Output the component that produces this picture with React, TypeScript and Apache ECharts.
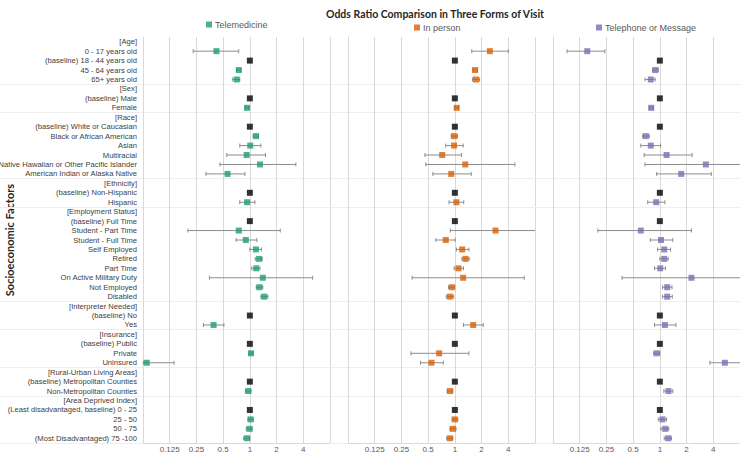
import React, { useEffect, useRef } from "react";
import * as echarts from "echarts";

const categories = [
  "[Age]",
  "0 - 17 years old",
  "(baseline) 18 - 44 years old",
  "45 - 64 years old",
  "65+ years old",
  "[Sex]",
  "(baseline) Male",
  "Female",
  "[Race]",
  "(baseline) White or Caucasian",
  "Black or African American",
  "Asian",
  "Multiracial",
  "Native Hawaiian or Other Pacific Islander",
  "American Indian or Alaska Native",
  "[Ethnicity]",
  "(baseline) Non-Hispanic",
  "Hispanic",
  "[Employment Status]",
  "(baseline) Full Time",
  "Student - Part Time",
  "Student - Full Time",
  "Self Employed",
  "Retired",
  "Part Time",
  "On Active Military Duty",
  "Not Employed",
  "Disabled",
  "[Interpreter Needed]",
  "(baseline) No",
  "Yes",
  "[Insurance]",
  "(baseline) Public",
  "Private",
  "Uninsured",
  "[Rural-Urban Living Areas]",
  "(baseline) Metropolitan Counties",
  "Non-Metropolitan Counties",
  "[Area Deprived Index]",
  "(Least disadvantaged, baseline) 0 - 25",
  "25 - 50",
  "50 - 75",
  "(Most Disadvantaged) 75 -100",
];

const N = null;
// Telemedicine
const teleOR = [N, 0.42, N, 0.75, 0.71, N, N, 0.93, N, N, 1.17, 1.01, 0.92, 1.3, 0.56, N, N, 0.93, N, N, 0.75, 0.9, 1.17, 1.27, 1.18, 1.4, 1.28, 1.45, N, N, 0.39, N, N, 1.03, 0.069, N, N, 0.96, N, N, 1.02, 0.99, 0.93];
const teleLo = [N, 0.23, N, 0.71, 0.64, N, N, 0.89, N, N, 1.09, 0.77, 0.55, 0.46, 0.32, N, N, 0.77, N, N, 0.2, 0.7, 1.0, 1.15, 1.05, 0.35, 1.18, 1.33, N, N, 0.3, N, N, 0.98, 0.063, N, N, 0.89, N, N, 0.95, 0.91, 0.85];
const teleHi = [N, 0.75, N, 0.79, 0.77, N, N, 0.97, N, N, 1.25, 1.33, 1.5, 3.3, 0.88, N, N, 1.14, N, N, 2.2, 1.2, 1.35, 1.38, 1.3, 5.1, 1.4, 1.6, N, N, 0.51, N, N, 1.08, 0.14, N, N, 1.03, N, N, 1.09, 1.06, 1.0];
// In person
const inOR = [N, 2.48, N, 1.69, 1.73, N, N, 1.05, N, N, 0.98, 0.98, 0.72, 1.31, 0.91, N, N, 1.04, N, N, 2.87, 0.79, 1.21, 1.32, 1.1, 1.24, 0.925, 0.88, N, N, 1.61, N, N, 0.665, 0.545, N, N, 0.88, N, N, 1.0, 0.95, 0.88];
const inLo = [N, 1.55, N, 1.6, 1.58, N, N, 1.0, N, N, 0.91, 0.79, 0.46, 0.47, 0.565, N, N, 0.86, N, N, 0.89, 0.61, 1.04, 1.2, 0.98, 0.33, 0.85, 0.8, N, N, 1.25, N, N, 0.32, 0.41, N, N, 0.82, N, N, 0.93, 0.88, 0.81];
const inHi = [N, 4.0, N, 1.8, 1.9, N, N, 1.1, N, N, 1.07, 1.24, 1.19, 4.75, 1.53, N, N, 1.26, N, N, 9.5, 1.01, 1.44, 1.45, 1.25, 6.05, 1.0, 0.97, N, N, 2.09, N, N, 1.44, 0.74, N, N, 0.95, N, N, 1.08, 1.03, 0.95];
// Telephone or Message
const phoneOR = [N, 0.152, N, 0.89, 0.79, N, N, 0.8, N, N, 0.695, 0.79, 1.19, 3.3, 1.74, N, N, 0.91, N, N, 0.61, 1.03, 1.12, 1.12, 1.01, 2.27, 1.21, 1.21, N, N, 1.14, N, N, 0.925, 5.4, N, N, 1.25, N, N, 1.07, 1.15, 1.24];
const phoneLo = [N, 0.09, N, 0.83, 0.68, N, N, 0.76, N, N, 0.64, 0.61, 0.665, 0.68, 0.92, N, N, 0.73, N, N, 0.2, 0.78, 0.94, 1.0, 0.87, 0.375, 1.07, 1.07, N, N, 0.87, N, N, 0.85, 3.66, N, N, 1.11, N, N, 0.96, 1.03, 1.12];
const phoneHi = [N, 0.24, N, 0.96, 0.885, N, N, 0.84, N, N, 0.76, 1.02, 2.31, 10, 3.8, N, N, 1.14, N, N, 2.27, 1.4, 1.32, 1.24, 1.16, 10, 1.37, 1.38, N, N, 1.52, N, N, 1.0, 10, N, N, 1.4, N, N, 1.19, 1.26, 1.35];

const panelNames = ["Telemedicine", "In person", "Telephone or Message"];
const panelColors = ["#1b9e77", "#d95f02", "#7570b3"];
const xMin = 0.0625;
const xMax = 8;

const panels = [
  { or: teleOR, lo: teleLo, hi: teleHi },
  { or: inOR, lo: inLo, hi: inHi },
  { or: phoneOR, lo: phoneLo, hi: phoneHi },
];

const isHeader = (i: number) => i > 0 && i < categories.length && categories[i].startsWith("[");
const baselineIdx = categories.map((c, i) => (c.includes("baseline") ? i : -1)).filter((i) => i >= 0);

const gridLefts = [143, 348, 553];
const gridWidth = 187;
const gridTop = 37;
const gridBottom = 11;

export default function App() {
  const ref = useRef<HTMLDivElement>(null);
  useEffect(() => {
    document.body.style.margin = "0";
    if (!ref.current) return;
    const chart = echarts.init(ref.current, undefined, { renderer: "svg" });
    const grids = gridLefts.map((l) => ({
      left: l,
      width: gridWidth,
      top: gridTop,
      bottom: gridBottom,
      containLabel: false,
      outerBoundsMode: "none",
    }));
    const xAxes = gridLefts.map((_, p) => ({
      type: "log",
      logBase: 2,
      gridIndex: p,
      min: xMin,
      max: xMax,
      axisLine: { show: true, lineStyle: { color: "#d9d9d9" } },
      axisTick: { show: false },
      splitLine: { show: true, lineStyle: { color: "#d9d9d9", width: 1 } },
      axisLabel: {
        showMinLabel: false,
        showMaxLabel: false,
        fontSize: 8,
        color: "#595959",
        margin: 2,
        fontFamily: "Liberation Sans, Arial, sans-serif",
      },
    }));
    const yAxes = gridLefts.map((_, p) => ({
      type: "category",
      gridIndex: p,
      data: categories,
      inverse: true,
      boundaryGap: true,
      axisLine: { show: true, lineStyle: { color: "#d9d9d9" } },
      axisTick: {
        show: true,
        interval: (i: number) => isHeader(i),
        length: p === 0 ? 143 : 18,
        lineStyle: { color: "#eeeeee" },
      },
      splitLine: { show: true, interval: (i: number) => isHeader(i), lineStyle: { color: "#eeeeee" } },
      axisLabel: {
        show: p === 0,
        interval: 0,
        fontSize: 7.6,
        color: "#404040",
        margin: 6,
        fontFamily: "Liberation Sans, Arial, sans-serif",
      },
      name: p === 0 ? "Socioeconomic Factors" : "",
      nameLocation: "middle",
      nameRotate: 90,
      nameGap: 128,
      nameMoveOverlap: false,
      nameTextStyle: {
        fontWeight: "bold",
        fontSize: 11,
        color: "#262626",
        fontFamily: "Lato, sans-serif",
      },
    }));

    const series: any[] = [];
    panels.forEach((pd, p) => {
      const errData: any[] = [];
      const ptData: any[] = [];
      pd.or.forEach((v, i) => {
        if (v == null) return;
        errData.push([pd.lo[i], pd.hi[i], i]);
        ptData.push([v, i]);
      });
      series.push({
        type: "custom",
        name: "err" + p,
        xAxisIndex: p,
        yAxisIndex: p,
        data: errData,
        z: 2,
        renderItem: (params: any, api: any) => {
          const cs = params.coordSys;
          const row = api.value(2);
          const a = api.coord([api.value(0), row]);
          const b = api.coord([api.value(1), row]);
          const xl = cs.x;
          const xr = cs.x + cs.width;
          const x0 = Math.max(a[0], xl);
          const x1 = Math.min(b[0], xr);
          const y = a[1];
          const st = { stroke: "#8c8c8c", lineWidth: 1 };
          const children: any[] = [
            { type: "line", shape: { x1: x0, y1: y, x2: x1, y2: y }, style: st },
          ];
          if (a[0] >= xl) children.push({ type: "line", shape: { x1: x0, y1: y - 2, x2: x0, y2: y + 2 }, style: st });
          if (b[0] <= xr) children.push({ type: "line", shape: { x1: x1, y1: y - 2, x2: x1, y2: y + 2 }, style: st });
          return { type: "group", children };
        },
      });
      series.push({
        type: "scatter",
        name: panelNames[p],
        xAxisIndex: p,
        yAxisIndex: p,
        symbol: "rect",
        symbolSize: 6,
        itemStyle: { color: panelColors[p] },
        data: ptData,
        z: 3,
      });
      series.push({
        type: "scatter",
        name: "baseline" + p,
        xAxisIndex: p,
        yAxisIndex: p,
        symbol: "rect",
        symbolSize: 6,
        itemStyle: { color: "#000000" },
        data: baselineIdx.map((i) => [1, i]),
        z: 3,
      });
    });

    const legendPos = [
      { left: 206, top: 20 },
      { left: 414, top: 23 },
      { left: 596, top: 23 },
    ];

    chart.setOption({
      animation: false,
      title: {
        text: "Odds Ratio Comparison in Three Forms of Visit",
        left: 430,
        top: 3,
        textAlign: "center",
        textStyle: {
          fontSize: 10.5,
          fontWeight: "bold",
          color: "#262626",
          fontFamily: "Lato, sans-serif",
        },
      },
      legend: panelNames.map((n, p) => ({
        data: [n],
        left: legendPos[p].left,
        top: legendPos[p].top,
        icon: "rect",
        itemWidth: 6,
        itemHeight: 6,
        itemGap: 4,
        padding: 0,
        textStyle: { fontSize: 9, color: "#595959", fontFamily: "Liberation Sans, Arial, sans-serif", padding: [0, 0, 0, -2] },
      })),
      grid: grids,
      xAxis: xAxes,
      yAxis: yAxes,
      series,
    });
    return () => chart.dispose();
  }, []);
  return <div ref={ref} style={{ width: 740, height: 454 }} />;
}
